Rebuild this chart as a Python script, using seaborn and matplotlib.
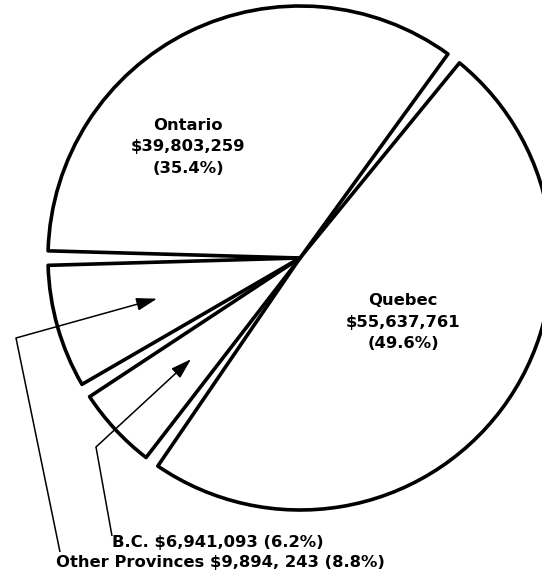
import matplotlib
matplotlib.use("Agg")
import matplotlib.pyplot as plt
import numpy as np
import seaborn as sns

# Provincial totals (dollars)
provinces = ["Quebec", "Ontario", "Other Provinces", "B.C."]
amounts = [55637761, 39803259, 9894243, 6941093]
amount_text = ["$55,637,761", "$39,803,259", "$9,894, 243", "$6,941,093"]
percents = [49.6, 35.4, 8.8, 6.2]

sns.set_theme(style="white")
plt.rcParams["font.family"] = ["DejaVu Sans"]

W, H, DPI = 542, 577, 100
R_PX = 252.0          # pie radius in pixels
CX, CY = 300.0, 258.0  # pie centre in pixels (from top-left)
GAP_DEG = 3.3          # angular gap between slices


def px(x, y):
    """Pixel position (top-left origin) -> data coordinates (radius = 1)."""
    return ((x - CX) / R_PX, (CY - y) / R_PX)


fig = plt.figure(figsize=(W / DPI, H / DPI), dpi=DPI)
ax = fig.add_axes([0, 0, 1, 1])

wedges, _ = ax.pie(
    amounts,
    startangle=234,
    counterclock=True,
    radius=1.0,
    wedgeprops=dict(facecolor="white", edgecolor="black",
                    linewidth=2.6, joinstyle="round"),
)

# open a thin gap on both sides of every slice
for w in wedges:
    w.set_theta1(w.theta1 + GAP_DEG / 2)
    w.set_theta2(w.theta2 - GAP_DEG / 2)

ax.set_xlim(-CX / R_PX, (W - CX) / R_PX)
ax.set_ylim(-(H - CY) / R_PX, CY / R_PX)
ax.set_aspect("equal")
ax.axis("off")

font = dict(fontsize=11.8, fontweight="bold", color="black")
esc = lambda s: s.replace("$", r"\$")

# labels inside the two large slices
inside = {0: px(403, 322), 1: px(188, 147)}
for i, (x, y) in inside.items():
    ax.text(x, y, f"{provinces[i]}\n{esc(amount_text[i])}\n({percents[i]}%)",
            ha="center", va="center", linespacing=1.58, **font)

# leader lines for the two small slices
leaders = {
    2: dict(text=px(56, 563), start=px(60, 552), corner=px(16, 338)),
    3: dict(text=px(112, 542), start=px(112, 536), corner=px(96, 447)),
}
for i, spec in leaders.items():
    w = wedges[i]
    mid = np.deg2rad((w.theta1 + w.theta2) / 2)
    tip = (0.59 * np.cos(mid), 0.59 * np.sin(mid))
    sx, sy = spec["start"]
    cx_, cy_ = spec["corner"]
    ax.plot([sx, cx_], [sy, cy_], color="black", lw=1.1,
            solid_capstyle="butt", zorder=5)
    ax.annotate("", xy=tip, xytext=(cx_, cy_),
                arrowprops=dict(arrowstyle="-|>,head_length=0.9,head_width=0.28",
                                color="black", lw=1.1, shrinkA=0, shrinkB=0,
                                mutation_scale=14),
                zorder=5)
    tx, ty = spec["text"]
    ax.text(tx, ty, f"{provinces[i]} {esc(amount_text[i])} ({percents[i]}%)",
            ha="left", va="center", **font)

fig.savefig("out.png", dpi=DPI)
